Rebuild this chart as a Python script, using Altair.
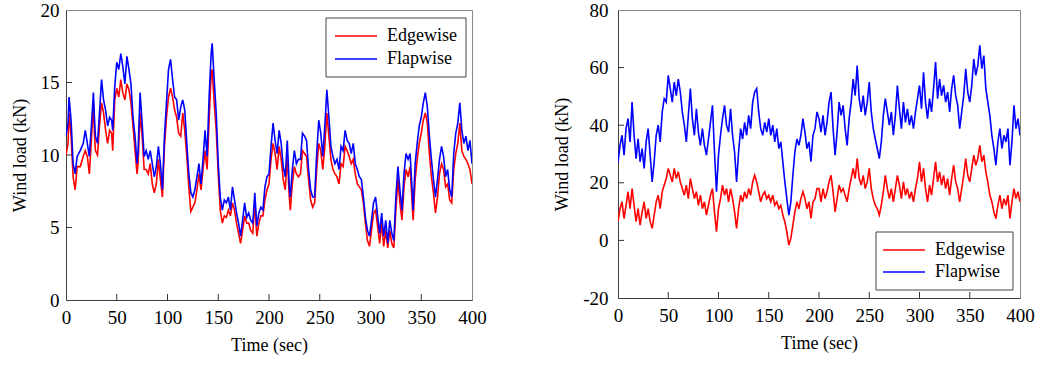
import altair as alt
import pandas as pd

SERIES = ["Edgewise", "Flapwise"]
COLORS = ["#ff0000", "#0000ff"]
X_TICKS = [0, 50, 100, 150, 200, 250, 300, 350, 400]
X_INNER = [50, 100, 150, 200, 250, 300, 350]
L_YTICKS = [0, 5, 10, 15, 20]
L_YINNER = [5, 10, 15]
R_YTICKS = [-20, 0, 20, 40, 60, 80]
R_YINNER = [0, 20, 40, 60]

# Left panel (time, flapwise, edgewise)
L_T = [0, 2, 3, 5, 7, 9, 11, 14, 17, 19, 21, 23, 25, 27, 28, 29, 31, 33, 35, 37, 39, 41, 43, 45, 46, 48,
       50, 52, 54, 56, 58, 60, 62, 64, 66, 68, 70, 71, 73, 75, 77, 79, 81, 83, 85, 87, 89, 91, 93, 95, 97, 99,
       101, 103, 105, 107, 109, 111, 113, 115, 117, 119, 121, 123, 125, 127, 129, 131, 133, 135, 137, 139,
       141, 143, 144, 146, 148, 150, 152, 154, 156, 158, 160, 162, 164, 166, 168, 170, 172, 174, 176, 178,
       180, 182, 184, 186, 188, 190, 192, 194, 196, 198, 200, 202, 204, 206, 208, 210, 212, 214, 216, 218,
       220, 221, 223, 225, 227, 229, 231, 233, 235, 237, 239, 241, 243, 245, 247, 249, 251, 253, 255, 257,
       259, 261, 263, 265, 267, 269, 271, 273, 275, 277, 279, 281, 283, 285, 287, 289, 291, 293, 295, 297,
       299, 301, 303, 305, 307, 309, 311, 313, 315, 317, 319, 321, 323, 325, 327, 329, 331, 333, 335, 337,
       339, 341, 342, 344, 346, 348, 350, 352, 354, 356, 358, 360, 362, 364, 366, 368, 370, 372, 374, 376,
       378, 380, 382, 384, 386, 388, 390, 392, 394, 396, 398, 400]
L_FLAP = [11.3, 12.2, 14.0, 12.4, 9.4, 8.7, 9.9, 10.3, 10.8, 11.7, 10.8, 9.9, 12.0, 14.3, 12.6, 11.3, 10.8, 12.9,
          15.2, 13.8, 13.1, 12.0, 12.6, 12.4, 11.7, 14.7,
          16.4, 15.9, 17.0, 16.1, 14.9, 16.8, 15.9, 14.9, 12.6, 11.3, 9.4, 10.3, 14.3, 12.2, 9.9, 10.3, 9.7,
          10.3, 9.4, 8.5, 9.2, 10.6, 9.4, 7.6, 11.3, 13.6,
          15.9, 16.6, 15.2, 14.0, 13.8, 12.4, 13.3, 13.8, 13.1, 10.8, 8.7, 7.4, 7.1, 7.6, 8.5, 9.4, 8.0, 9.7,
          11.7, 9.9,
          14.0, 17.0, 17.7, 15.2, 12.9, 9.4, 7.1, 6.2, 6.9, 6.7, 7.1, 6.2, 7.8, 6.9, 6.0, 5.3, 4.4, 5.5, 6.7, 5.7,
          6.0, 5.5, 5.3, 7.4, 5.1, 6.0, 6.4, 6.2, 7.8, 8.5, 8.7, 10.6, 12.2, 11.0, 10.1, 11.7, 10.8, 9.2, 8.5, 11.0,
          7.8, 7.1, 9.0, 10.3, 9.4, 9.7, 9.7, 11.5, 11.3, 11.0, 9.0, 7.6, 7.1, 7.1, 10.1, 12.4, 11.5, 9.9, 12.0, 14.5,
          12.6, 10.6, 9.9, 9.4, 9.7, 9.0, 10.6, 10.3, 11.7, 11.0, 10.8, 10.1, 10.8, 9.4, 9.0, 8.5, 8.3, 7.1, 5.7, 4.8,
          4.4, 5.5, 6.7, 7.1, 5.8, 4.6, 6.0, 4.4, 5.5, 3.9, 5.5, 4.6, 4.1, 7.1, 9.2, 7.6, 6.2, 8.7, 10.1, 9.7,
          10.1, 7.6, 6.2, 9.4, 10.8, 12.0, 12.6, 13.6, 14.3, 13.3, 11.3, 9.7, 8.3, 7.1, 8.3, 9.7, 10.6, 9.9, 8.5, 9.0,
          7.6, 7.1, 10.1, 11.5, 12.2, 13.6, 11.7, 10.8, 11.3, 10.3, 11.0, 9.4]
L_EDGE = [10.0, 10.8, 12.9, 11.3, 8.5, 7.6, 9.2, 9.2, 9.9, 10.3, 9.9, 8.7, 11.0, 13.6, 11.5, 10.3, 10.0, 12.0,
          13.6, 12.9, 11.7, 10.8, 11.7, 11.5, 10.3, 13.8,
          14.6, 14.0, 15.2, 14.3, 13.8, 14.9, 14.5, 13.6, 12.0, 10.3, 8.7, 9.4, 12.9, 11.3, 9.0, 9.0, 8.7,
          9.4, 8.0, 7.4, 8.0, 9.7, 8.3, 7.1, 10.6, 12.6,
          14.0, 14.6, 14.0, 13.1, 12.6, 11.5, 11.3, 12.9, 11.7, 9.9, 7.8, 6.1, 6.4, 6.7, 7.6, 8.7, 7.6, 9.0,
          10.3, 9.0,
          12.4, 15.6, 15.9, 13.6, 11.7, 8.7, 6.2, 5.3, 5.8, 5.7, 6.2, 5.8, 6.7, 6.2, 5.3, 4.6, 3.9, 4.8, 5.8, 5.3,
          5.3, 4.8, 4.6, 6.7, 4.4, 5.3, 5.8, 5.8, 6.9, 7.6, 8.0, 9.7, 10.8, 10.1, 9.0, 10.6, 9.7, 8.3, 7.6, 9.9,
          7.1, 6.2, 8.0, 9.2, 8.7, 8.5, 8.7, 10.3, 10.1, 9.9, 8.3, 6.9, 6.4, 6.7, 9.0, 10.8, 10.3, 9.0, 10.6, 12.9,
          11.3, 9.7, 9.0, 8.7, 8.5, 8.0, 9.4, 9.2, 10.6, 10.3, 9.9, 9.4, 9.7, 8.7, 8.0, 7.8, 7.6, 6.7, 5.3, 4.1,
          3.7, 4.8, 6.0, 6.2, 5.1, 3.9, 5.3, 3.7, 4.8, 3.6, 4.8, 3.9, 3.6, 6.2, 8.3, 6.7, 5.5, 7.8, 9.0, 8.5,
          9.2, 6.7, 5.5, 8.3, 9.7, 10.8, 11.5, 12.4, 12.9, 12.2, 10.1, 8.5, 7.4, 6.0, 7.1, 8.7, 9.4, 9.0, 7.8, 8.0,
          6.9, 6.7, 9.0, 10.1, 10.8, 12.2, 10.3, 9.9, 9.7, 9.4, 9.0, 8.0]

# Right panel, sampled every 2 s from 0 to 400
R_T = list(range(0, 401, 2))
R_FLAP = [27, 33, 36.5, 29.6, 38.8, 42.3, 34.2, 48, 36.5, 28.4,
          35.3, 27.3, 31.9, 25, 34.2, 38.8, 29.6, 20.3, 27.3, 36.5,
          40, 34.2, 44.6, 49.2, 48, 57.3, 52.7, 48, 55, 50.3,
          56, 51.5, 44.6, 40, 34.2, 43.4, 52.7, 42.3, 36.5, 45.7,
          37.6, 33, 38.8, 33, 29.6, 35.2, 41, 46.9, 30.7, 16.9,
          29.6, 36.5, 42.3, 46.9, 40, 37.6, 45.7, 36.5, 30.7, 20.3,
          30.7, 38.8, 35.2, 41, 36.5, 43.4, 38.8, 48, 51.5, 52.7,
          44.6, 38.8, 36.5, 41, 37.6, 42.3, 36.5, 40, 34.2, 38.8,
          31.9, 34.2, 27.3, 20.3, 14.5, 8.8, 13.4, 22.6, 30.7, 35.2,
          33, 36.5, 42.3, 37.6, 31.9, 34.2, 27.3, 36.5, 38.8, 44.6,
          42.3, 37.6, 43.4, 36.5, 41, 48, 51.5, 38.8, 29.6, 37.6,
          48, 43.4, 46.9, 38.8, 33, 42.3, 48, 56, 50.3, 60.7,
          49.2, 44.6, 50.3, 43.4, 48, 55, 44.6, 38.8, 35.2, 31.9,
          28.4, 34.2, 43.4, 49.2, 44.6, 40, 44.6, 36.5, 43.4, 53.8,
          45.7, 38.8, 48, 41, 45.7, 40, 43.4, 38.8, 44.6, 49.2,
          53.8, 45.7, 58.4, 48, 42.3, 49.2, 44.6, 52.7, 61.9, 49.2,
          56, 50.3, 53.8, 48, 51.5, 44.6, 52.7, 57.3, 50.3, 46.9,
          38.8, 44.6, 50.3, 59.6, 51.5, 48, 53.8, 63, 57.3, 60.7,
          67.7, 59.6, 64.2, 52.7, 48, 43.4, 36.5, 31.9, 26.1, 34.2,
          38.8, 31.9, 36.5, 34.2, 38.8, 26.1, 34.2, 46.9, 38.8, 42.3,
          36.5]
R_EDGE = [6.5, 11, 13.4, 7.6, 12.2, 16.9, 11, 18, 12.2, 6.5,
          11, 5.3, 9.9, 13.4, 7.6, 11, 6.5, 4.2, 8.8, 13.4,
          15.7, 11, 16.9, 19.2, 21.5, 25, 22.6, 20.3, 25, 21.5,
          23.8, 20.3, 18, 15.7, 19.2, 14.5, 21.5, 18, 14.5, 16.9,
          12.2, 15.7, 11, 13.4, 8.8, 12.2, 15.7, 18, 9.9, 3,
          11, 14.5, 19.2, 15.7, 18, 13.4, 18, 14.5, 9.9, 4.2,
          11, 15.7, 13.4, 16.9, 14.5, 18, 15.7, 20.3, 22.6, 20.3,
          16.9, 13.4, 15.7, 16.9, 14.5, 15.7, 13.4, 15.7, 12.2, 13.4,
          11, 12.2, 8.8, 6.5, 3, -1.6, 0.7, 5.3, 9.9, 13.4,
          11, 14.5, 16.9, 14.5, 11, 13.4, 7.6, 13.4, 14.5, 18,
          18, 13.4, 18, 14.5, 16.9, 20.3, 22.6, 16.9, 9.9, 14.5,
          19.2, 16.9, 18, 15.7, 13.4, 18, 21.5, 25, 21.5, 28.4,
          21.5, 19.2, 22.6, 18, 20.3, 25, 18, 14.5, 12.2, 11,
          8.8, 12.2, 16.9, 22.6, 18, 14.5, 18, 13.4, 18, 22.6,
          19.2, 14.5, 20.3, 15.7, 18, 14.5, 16.9, 13.4, 18, 21.5,
          27.3, 20.3, 25, 18, 13.4, 19.2, 15.7, 21.5, 27.3, 20.3,
          23.8, 19.2, 22.6, 18, 21.5, 15.7, 21.5, 26.1, 20.3, 18,
          13.4, 18, 22.6, 28.4, 22.6, 20.3, 25, 29.6, 26.1, 28.4,
          33, 27.3, 29.6, 23.8, 20.3, 15.7, 13.4, 9.9, 7.6, 12.2,
          15.7, 11, 14.5, 12.2, 15.7, 7.6, 13.4, 18, 14.5, 16.9,
          13.4]

FONT = "Liberation Serif"


def long_df(t, edge, flap):
    return pd.concat([
        pd.DataFrame({"t": t, "load": edge, "series": SERIES[0]}),
        pd.DataFrame({"t": t, "load": flap, "series": SERIES[1]}),
    ], ignore_index=True)


def legend_layers(bx0, bx1, by0, by1, rows_y, sx0, sx1, tx):
    one = pd.DataFrame({"series": [SERIES[0]]})
    layers = [alt.Chart(one).mark_rect(fill="white", stroke="#444", strokeWidth=1).encode(
        x=alt.value(bx0), x2=alt.value(bx1), y=alt.value(by0), y2=alt.value(by1))]
    for name, col, ry in zip(SERIES, COLORS, rows_y):
        d = pd.DataFrame({"series": [name]})
        layers.append(alt.Chart(d).mark_rule(color=col, strokeWidth=1.6).encode(
            x=alt.value(sx0), x2=alt.value(sx1), y=alt.value(ry)))
        layers.append(alt.Chart(d).mark_text(align="left", baseline="middle", font=FONT,
                                             fontSize=18, color="black").encode(
            x=alt.value(tx), y=alt.value(ry), text="series:N"))
    return layers


def panel(df, ydom, yticks, yinner, w, h, label_pad, leg):
    xs = alt.Scale(domain=[0, 400], nice=False)
    ys = alt.Scale(domain=ydom, nice=False)
    lines = alt.Chart(df).mark_line(strokeWidth=1.6, clip=True).encode(
        x=alt.X("t:Q", scale=xs, axis=alt.Axis(values=X_TICKS, title="Time (sec)",
                                                labelPadding=8, titlePadding=9)),
        y=alt.Y("load:Q", scale=ys, axis=alt.Axis(values=yticks, title="Wind load (kN)",
                                                   labelExpr="datum.value + ''",
                                                   labelPadding=label_pad, titlePadding=11)),
        color=alt.Color("series:N", scale=alt.Scale(domain=SERIES, range=COLORS), legend=None),
    )
    xt = alt.Chart(pd.DataFrame({"t": X_INNER})).mark_rule(color="#333", strokeWidth=1).encode(
        x=alt.X("t:Q", scale=xs), y=alt.value(h), y2=alt.value(h - 6))
    yt = alt.Chart(pd.DataFrame({"load": yinner})).mark_rule(color="#333", strokeWidth=1).encode(
        y=alt.Y("load:Q", scale=ys), x=alt.value(0), x2=alt.value(6))
    return alt.layer(lines, xt, yt, *legend_layers(*leg)).properties(width=w, height=h)


left = panel(long_df(L_T, L_EDGE, L_FLAP), [0, 20], L_YTICKS, L_YINNER, 406, 290, 7,
             (260, 400, 8, 67, (26, 49), 269, 311, 321))
right = panel(long_df(R_T, R_EDGE, R_FLAP), [-20, 80], R_YTICKS, R_YINNER, 402, 288, 10,
              (258, 395, 222, 280, (240, 262), 265, 307, 317))

chart = alt.hconcat(left, right, spacing=146, bounds="flush").resolve_scale(
    color="independent", x="independent", y="independent"
).properties(
    padding={"left": 10, "top": 0, "right": 5, "bottom": 5},
    background="white",
).configure_view(stroke="#888", strokeWidth=1).configure_axis(
    domainColor="#404040", domainWidth=1, ticks=False, grid=False,
    labelFont=FONT, labelFontSize=19, labelColor="black", labelFlush=False, labelOverlap=False,
    titleFont=FONT, titleFontSize=18, titleFontWeight="normal", titleColor="black",
)

chart.save("out.html", embed_options={"renderer": "svg", "actions": False})
